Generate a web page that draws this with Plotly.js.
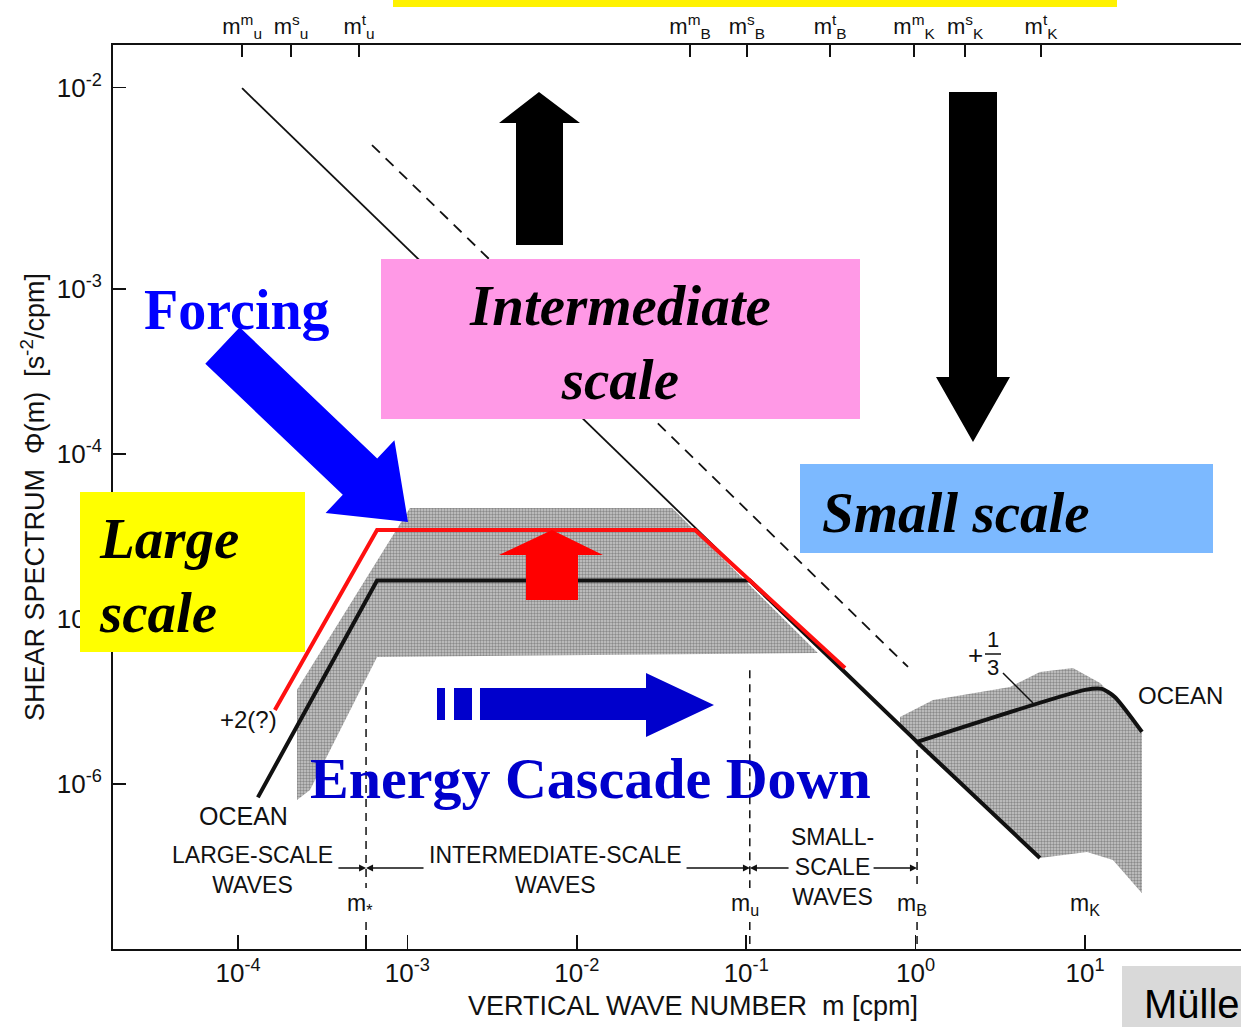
<!DOCTYPE html>
<html><head><meta charset="utf-8">
<script src="https://cdn.plot.ly/plotly-3.0.1.min.js"></script>
<style>html,body{margin:0;padding:0;background:#fff}</style>
</head><body><div id="chart" style="width:1241px;height:1027px"></div>
<script>
// ---- data (m in cpm, Phi in s^-2/cpm) ----
const oceanX = [1.31e-4, 6.62e-4, 0.105, 1.02, 5.42];
const oceanY = [8.3e-7, 1.71e-5, 1.71e-5, 1.80e-6, 3.56e-7];
const fineX = [1.02, 10.0, 12.6, 15.0, 21.7];
const fineY = [1.80e-6, 3.72e-6, 3.77e-6, 3.37e-6, 2.07e-6];
const gmThinX = [1.057e-4, 0.105];
const gmThinY = [1.65e-2, 1.71e-5];
const gmDashX = [6.18e-4, 0.902];
const gmDashY = [7.46e-3, 5.12e-6];
const raisedX = [1.65e-4, 6.62e-4, 0.0499, 0.383];
const raisedY = [2.81e-6, 3.46e-5, 3.46e-5, 5.05e-6];
const bandMidX = [2.23e-4, 2.23e-4, 1.035e-3, 0.0365, 0.265, 6.62e-4, 2.66e-4];
const bandMidY = [8.0e-7, 3.72e-6, 4.71e-5, 4.71e-5, 6.22e-6, 5.89e-6, 9.2e-7];
const bandSmallX = [0.809, 1.268, 3.61, 5.42, 8.49, 12.27, 19.19, 21.7, 21.7, 14.62, 10.28, 6.21, 5.42, 1.019, 0.809];
const bandSmallY = [2.55e-6, 3.23e-6, 3.87e-6, 4.78e-6, 5.05e-6, 4.09e-6, 2.55e-6, 2.07e-6, 2.18e-7, 3.46e-7, 3.87e-7, 3.61e-7, 3.56e-7, 1.72e-6, 2.28e-6];
const leaderX = [3.28, 4.93];
const leaderY = [4.71e-6, 3.10e-6];
const mStar = 5.70e-4, mU = 0.105, mB = 1.02;
const mStarY = [3.87e-6, 2.34e-7, null, 1.46e-7, 1.0e-7];
const mUY = [4.9e-6, 2.34e-7, null, 1.46e-7, 1.0e-7];
const mBY = [1.61e-6, 2.34e-7, null, 1.46e-7, 1.0e-7];

const xTickVals = [1e-4, 1e-3, 1e-2, 1e-1, 1, 10, 5.70e-4];
const xTickText = ['10<sup>-4</sup>', '10<sup>-3</sup>', '10<sup>-2</sup>', '10<sup>-1</sup>', '10<sup>0</sup>', '10<sup>1</sup>', ''];
const yTickVals = [1e-6, 1e-5, 1e-4, 1e-3, 0.0166];
const yTickText = ['10<sup>-6</sup>', '10<sup>-5</sup>', '10<sup>-4</sup>', '10<sup>-3</sup>', '10<sup>-2</sup>'];
const topTickVals = [1.057e-4, 2.056e-4, 5.18e-4, 0.0466, 0.101, 0.313, 0.979, 1.959, 5.50];
const topTickText = ['m<sup>m</sup><sub>u</sub>', 'm<sup>s</sup><sub>u</sub>', 'm<sup>t</sup><sub>u</sub>',
  'm<sup>m</sup><sub>B</sub>', 'm<sup>s</sup><sub>B</sub>', 'm<sup>t</sup><sub>B</sub>',
  'm<sup>m</sup><sub>K</sub>', 'm<sup>s</sup><sub>K</sub>', 'm<sup>t</sup><sub>K</sub>'];

// ---- page geometry for overlay decorations ----
const L = 113, T = 45, PW = 1128, PH = 904;
const X = p => (p - L) / PW;
const Y = p => (T + PH - p) / PH;
function poly(pts) {
  return 'M ' + pts.map(p => X(p[0]).toFixed(5) + ',' + Y(p[1]).toFixed(5)).join(' L ') + ' Z';
}
function pathShape(pts, color) {
  return {type: 'path', xref: 'paper', yref: 'paper', path: poly(pts), fillcolor: color, line: {width: 0}, layer: 'above'};
}
function rectShape(x0, y0, x1, y1, color) {
  return {type: 'rect', xref: 'paper', yref: 'paper', x0: X(x0), x1: X(x1), y0: Y(y1), y1: Y(y0), fillcolor: color, line: {width: 0}, layer: 'above'};
}

const ink = '#111';
const grayFill = {shape: '.', fgcolor: '#8a8a8a', bgcolor: '#cacaca', size: 3, solidity: 0.5};

const traces = [
  {x: bandMidX, y: bandMidY, mode: 'lines', fill: 'toself', fillcolor: '#c0c0c0', fillpattern: grayFill, line: {width: 0}, hoverinfo: 'skip'},
  {x: bandSmallX, y: bandSmallY, mode: 'lines', fill: 'toself', fillcolor: '#c0c0c0', fillpattern: grayFill, line: {width: 0}, hoverinfo: 'skip'},
  {x: gmThinX, y: gmThinY, mode: 'lines', line: {color: ink, width: 1.8}},
  {x: gmDashX, y: gmDashY, mode: 'lines', line: {color: ink, width: 1.8, dash: '11px,8px'}},
  {x: [mStar, mStar, null, mStar, mStar], y: mStarY, mode: 'lines', line: {color: ink, width: 1.5, dash: '8px,6px'}},
  {x: [mU, mU, null, mU, mU], y: mUY, mode: 'lines', line: {color: ink, width: 1.5, dash: '8px,6px'}},
  {x: [mB, mB, null, mB, mB], y: mBY, mode: 'lines', line: {color: ink, width: 1.5, dash: '8px,6px'}},
  {x: leaderX, y: leaderY, mode: 'lines', line: {color: ink, width: 1.5}},
  {x: oceanX, y: oceanY, mode: 'lines', line: {color: ink, width: 4}},
  {x: fineX, y: fineY, mode: 'lines', line: {color: ink, width: 4, shape: 'spline', smoothing: 0.6}},
  {x: raisedX, y: raisedY, mode: 'lines', line: {color: '#ff1010', width: 4}},
  {x: [1e-3], y: [1e-5], xaxis: 'x2', mode: 'markers', marker: {opacity: 0}, hoverinfo: 'skip'}
];

const fontSans = 'Liberation Sans, Arial, sans-serif';
const fontSerif = 'Liberation Serif, Times New Roman, serif';

function dataLabel(text, lx, ly, size) {
  return {xref: 'x', yref: 'y', x: lx, y: ly, text: text, showarrow: false, font: {family: fontSans, size: size || 23, color: ink}, xanchor: 'center', yanchor: 'middle'};
}
function rangeArrow(headLx, tailLx, ly) {
  return {xref: 'x', yref: 'y', axref: 'x', ayref: 'y', x: headLx, y: ly, ax: tailLx, ay: ly, text: '', showarrow: true, arrowhead: 2, arrowsize: 1, arrowwidth: 1.4, arrowcolor: ink};
}
function paperText(text, xp, yp, size, color, anchor, family) {
  return {xref: 'paper', yref: 'paper', x: X(xp), y: Y(yp), text: text, showarrow: false, font: {family: family || fontSerif, size: size, color: color}, xanchor: anchor || 'center', yanchor: 'middle', align: anchor === 'left' ? 'left' : 'center'};
}

const annotations = [
  dataLabel('+2(?)', -3.941, -5.606, 24),
  dataLabel('OCEAN', -3.965, -6.194, 25),
  dataLabel('LARGE-SCALE<br>WAVES', -3.917, -6.521),
  dataLabel('INTERMEDIATE-SCALE<br>WAVES', -2.123, -6.521),
  dataLabel('SMALL-<br>SCALE<br>WAVES', -0.493, -6.503),
  dataLabel('m<sub>*</sub>', -3.280, -6.733),
  dataLabel('m<sub>u</sub>', -1.007, -6.733),
  dataLabel('m<sub>B</sub>', -0.021, -6.733),
  dataLabel('m<sub>K</sub>', 1.000, -6.733),
  dataLabel('OCEAN', 1.561, -5.461, 24),
  dataLabel('+', 0.351, -5.218, 26),
  dataLabel('1', 0.457, -5.127, 22),
  dataLabel('3', 0.457, -5.291, 22),
  rangeArrow(-3.244, -3.416, -6.509),
  rangeArrow(-3.244, -2.896, -6.509),
  rangeArrow(-0.978, -1.361, -6.509),
  rangeArrow(-0.978, -0.741, -6.509),
  rangeArrow(0.008, -0.257, -6.509),
  paperText('VERTICAL WAVE NUMBER  m [cpm]', 693, 1006, 27, ink, 'center', fontSans),
  paperText('<b>Forcing</b>', 237, 310, 56, '#0000ff'),
  paperText('<b><i>Intermediate</i></b><br><b><i>scale</i></b>', 620, 342, 57, '#000'),
  paperText('<b><i>Small scale</i></b>', 956, 512, 57, '#000'),
  paperText('<b><i>Large</i></b><br><b><i>scale</i></b>', 97, 575, 57, '#000', 'left'),
  paperText('<b>Energy Cascade Down</b>', 590, 778, 58, '#0000cc'),
  {xref: 'paper', yref: 'paper', x: X(1142), y: Y(1004), text: 'Müller', showarrow: false, font: {family: fontSans, size: 40, color: '#000'}, xanchor: 'left', yanchor: 'middle'}
];

const shapes = [
  rectShape(393, 0, 1117, 7, '#fff200'),
  pathShape([[539, 92], [580, 123], [563, 123], [563, 245], [516, 245], [516, 123], [499, 123]], '#000'),
  pathShape([[949, 92], [997, 92], [997, 377], [1010, 377], [973, 442], [936, 377], [949, 377]], '#000'),
  rectShape(381, 259, 860, 419, '#ff99e6'),
  rectShape(800, 464, 1213, 553, '#7cb9ff'),
  rectShape(80, 492, 305, 652, '#ffff00'),
  pathShape([[239.7, 327.3], [377.2, 458.4], [394.4, 440.2], [408, 522], [325.6, 513.0], [342.8, 494.8], [205.3, 363.7]], '#0000ff'),
  pathShape([[552, 530], [603, 555], [578, 555], [578, 600], [526, 600], [526, 555], [499, 555]], '#ff0000'),
  rectShape(437, 688, 445, 720, '#0000cc'),
  rectShape(454, 688, 472, 720, '#0000cc'),
  pathShape([[480, 688], [646, 688], [646, 673], [714, 705], [646, 737], [646, 720], [480, 720]], '#0000cc'),
  rectShape(1122, 966, 1241, 1027, '#d9d9d9'),
  {type: 'line', xref: 'paper', yref: 'paper', x0: X(985), x1: X(1001), y0: Y(654), y1: Y(654), line: {color: ink, width: 1.5}, layer: 'above'}
];

const layout = {
  width: 1241, height: 1027,
  margin: {l: L, r: 1241 - L - PW, t: T, b: 1027 - T - PH, pad: 0},
  paper_bgcolor: '#fff', plot_bgcolor: '#fff',
  showlegend: false,
  font: {family: fontSans, color: ink},
  xaxis: {type: 'log', range: [-4.738, 1.921], showline: true, linecolor: ink, linewidth: 2,
    ticks: 'inside', ticklen: 14, tickwidth: 1.5, tickcolor: ink,
    tickvals: xTickVals, ticktext: xTickText, tickfont: {size: 26, color: ink},
    showgrid: false, zeroline: false},
  xaxis2: {type: 'log', range: [-4.738, 1.921], overlaying: 'x', side: 'top', anchor: 'y',
    showline: true, linecolor: ink, linewidth: 2, ticks: 'inside', ticklen: 12, tickwidth: 1.5, tickcolor: ink,
    tickvals: topTickVals, ticktext: topTickText, tickfont: {size: 22, color: ink},
    showgrid: false, zeroline: false},
  yaxis: {type: 'log', range: [-7, -1.521], showline: true, linecolor: ink, linewidth: 2,
    ticks: 'inside', ticklen: 13, tickwidth: 1.5, tickcolor: ink, ticklabelstandoff: 4,
    tickvals: yTickVals, ticktext: yTickText, tickfont: {size: 26, color: ink},
    showgrid: false, zeroline: false,
    title: {text: 'SHEAR SPECTRUM  Φ(m)  [s<sup>-2</sup>/cpm]', font: {size: 27, color: ink}, standoff: 4}},
  shapes: shapes,
  annotations: annotations
};

Plotly.newPlot('chart', traces, layout, {displayModeBar: false, staticPlot: true});
</script></body></html>
